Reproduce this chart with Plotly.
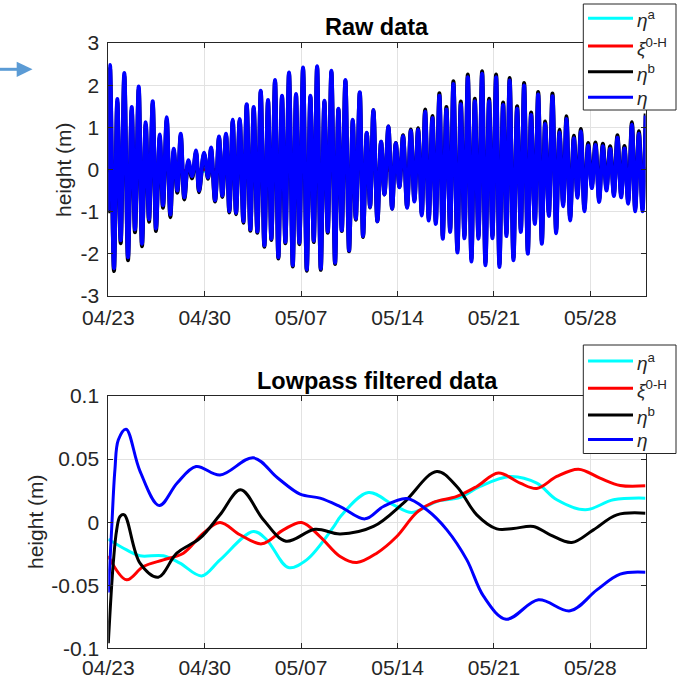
import plotly.graph_objects as go
import pandas as pd

# ---------------- data ----------------
START = "2019-04-23"
END = "2019-06-01"
tick_dates = ["2019-04-23", "2019-04-30", "2019-05-07", "2019-05-14", "2019-05-21", "2019-05-28"]
tick_labels = ["04/23", "04/30", "05/07", "05/14", "05/21", "05/28"]

# Raw data: times (hours after 04/23 00:00) of successive high/low waters
raw_hours = [
    0, 3.0, 9.9, 15.7, 21.6, 27.9, 34.3, 40.8, 46.5, 53.0,
    58.7, 65.2, 70.9, 77.4, 83.1, 89.6, 95.3, 101.8, 108.1, 114.0,
    120.3, 126.2, 132.5, 139.4, 145.9, 152.9, 158.1, 166.8, 173.8, 179.0,
    186.0, 192.9, 198.7, 205.1, 210.9, 216.8, 222.6, 229.0, 235.3, 241.2,
    247.5, 253.4, 259.7, 265.6, 271.9, 278.3, 284.1, 290.5, 296.3, 302.7,
    308.5, 314.9, 321.4, 327.1, 332.9, 339.3, 345.8, 352.1, 358.0, 363.8,
    370.2, 376.5, 382.4, 388.7, 395.1, 400.9, 406.8, 413.1, 419.5, 426.0,
    431.2, 438.2, 443.9, 450.4, 456.1, 461.9, 468.9, 475.3, 481.1, 488.0,
    494.5, 500.9, 507.2, 513.6, 520.6, 527.1, 533.3, 539.8, 546.2, 552.0,
    558.4, 564.7, 570.6, 576.9, 582.8, 589.1, 595.6, 601.3, 608.3, 614.2,
    620.5, 626.4, 632.7, 638.6, 644.9, 651.3, 657.1, 663.5, 669.3, 675.7,
    681.5, 687.9, 693.7, 699.3, 705.9, 712.3, 718.8, 724.5, 731.0, 736.7,
    743.2, 749.0, 755.4, 761.2, 767.6, 773.9, 780.3, 786.1, 792.5, 798.3,
    804.7, 811.2, 817.4, 823.4, 829.6, 836.1, 842.5, 848.8, 855.2, 861.7,
    868.0, 874.4, 880.9, 887.1, 893.6, 899.3, 905.8, 912.3, 918.0, 924.5,
    930.7, 936.3,
]
eta_raw = [
    -0.97, 2.48, -2.34, 1.67, -1.68, 2.29, -2.08, 1.48, -1.42, 1.97,
    -1.76, 1.12, -1.18, 1.62, -1.40, 0.83, -0.85, 1.24, -1.07, 0.49,
    -0.50, 0.85, -0.66, 0.22, -0.16, 0.45, -0.50, 0.40, -0.19, 0.52,
    -0.73, 0.78, -0.62, 0.85, -0.99, 1.18, -1.03, 1.20, -1.23, 1.55,
    -1.42, 1.48, -1.47, 1.87, -1.80, 1.65, -1.64, 2.12, -2.08, 1.75,
    -1.72, 2.30, -2.27, 1.79, -1.74, 2.42, -2.37, 1.75, -1.69, 2.45,
    -2.35, 1.63, -1.47, 2.34, -2.21, 1.44, -1.44, 2.12, -1.92, 1.18,
    -1.17, 1.83, -1.58, 0.87, -0.89, 1.41, -1.23, 0.66, -0.59, 1.02,
    -0.93, 0.62, -0.42, 0.79, -0.91, 0.92, -0.76, 0.94, -1.09, 1.37,
    -1.21, 1.22, -1.29, 1.75, -1.64, 1.42, -1.48, 2.03, -1.97, 1.55,
    -1.63, 2.19, -2.18, 1.62, -1.64, 2.27, -2.27, 1.62, -1.63, 2.19,
    -2.31, 1.53, -1.58, 2.11, -2.15, 1.44, -1.48, 1.99, -2.00, 1.29,
    -1.29, 1.78, -1.76, 1.08, -1.10, 1.74, -1.51, 0.88, -0.87, 1.20,
    -1.21, 0.74, -0.67, 0.90, -0.99, 0.57, -0.44, 0.58, -0.77, 0.55,
    -0.50, 0.49, -0.63, 0.75, -0.66, 0.50, -0.81, 1.06, -0.99, 0.85,
    -0.99, 1.28,
]
eta_b_raw = [
    -1.04, 2.41, -2.41, 1.60, -1.75, 2.22, -2.15, 1.41, -1.49, 1.90,
    -1.82, 1.06, -1.24, 1.56, -1.46, 0.77, -0.91, 1.18, -1.13, 0.44,
    -0.55, 0.80, -0.71, 0.17, -0.21, 0.41, -0.54, 0.37, -0.22, 0.49,
    -0.76, 0.75, -0.65, 0.82, -1.02, 1.15, -1.06, 1.17, -1.26, 1.52,
    -1.45, 1.45, -1.50, 1.84, -1.83, 1.62, -1.67, 2.09, -2.11, 1.72,
    -1.75, 2.27, -2.30, 1.76, -1.77, 2.39, -2.40, 1.72, -1.72, 2.42,
    -2.38, 1.60, -1.50, 2.31, -2.24, 1.42, -1.46, 2.10, -1.94, 1.16,
    -1.19, 1.81, -1.60, 0.86, -0.90, 1.41, -1.23, 0.66, -0.59, 1.02,
    -0.93, 0.63, -0.41, 0.81, -0.89, 0.95, -0.73, 0.98, -1.05, 1.42,
    -1.16, 1.27, -1.24, 1.81, -1.58, 1.48, -1.42, 2.09, -1.91, 1.61,
    -1.57, 2.25, -2.12, 1.68, -1.58, 2.33, -2.21, 1.68, -1.57, 2.25,
    -2.25, 1.59, -1.52, 2.17, -2.09, 1.50, -1.42, 2.05, -1.94, 1.35,
    -1.23, 1.84, -1.70, 1.14, -1.04, 1.80, -1.45, 0.94, -0.81, 1.26,
    -1.15, 0.80, -0.61, 0.96, -0.93, 0.63, -0.38, 0.64, -0.71, 0.61,
    -0.44, 0.55, -0.57, 0.81, -0.60, 0.56, -0.75, 1.12, -0.93, 0.91,
    -0.93, 1.33,
]

# Lowpass filtered data: (days after 04/23 00:00, metres)
eta_a_days = [0, 1.33, 2.3, 4.0, 5.2, 6.78, 8.11, 10.53, 11.5, 13.07, 14.4, 16.34, 16.9,
              18.88, 20.7, 22.03, 23.85, 25.54, 26.99, 29.17, 31.11, 32.56, 34.62, 36.67, 39.0]
eta_a_lp = [-0.0135, -0.022, -0.0267, -0.0267, -0.0325, -0.0426, -0.0299, -0.0074, -0.014, -0.036,
            -0.0299, -0.004, 0.005, 0.0235, 0.0137, 0.0077, 0.0164, 0.0196, 0.0283, 0.0362, 0.0309,
            0.0177, 0.0098, 0.0177, 0.019]

xi_days = [0, 1.33, 2.54, 4.0, 5.45, 6.9, 8.11, 9.56, 11.14, 12.71, 14.04, 15.37, 16.83, 18.04,
           19.49, 20.94, 22.4, 23.6, 25.3, 26.75, 28.32, 29.9, 31.11, 32.56, 34.13, 35.7, 37.16, 39.0]
xi_lp = [-0.0267, -0.0457, -0.0352, -0.0299, -0.0246, -0.0087, -0.0003, -0.010, -0.0172, -0.0061,
         -0.0003, -0.0114, -0.0272, -0.032, -0.0246, -0.0114, 0.0077, 0.0156, 0.0204, 0.0283, 0.0389,
         0.0309, 0.0267, 0.0362, 0.042, 0.0349, 0.0291, 0.0288]

eta_b_days = [0, 0.36, 0.61, 0.85, 1.16, 2.3, 3.63, 4.97, 6.66, 8.11, 9.61, 11.26, 12.9, 15.01,
              16.83, 19.25, 21.42, 23.85, 25.3, 26.75, 28.2, 29.41, 30.86, 32.08, 33.65, 35.22,
              36.92, 39.0]
eta_b_lp = [-0.096, -0.0325, -0.006, 0.0045, 0.0058, -0.0325, -0.0436, -0.0246, -0.0127, 0.0058,
            0.0256, 0.0019, -0.0151, -0.0056, -0.0093, -0.0034, 0.0151, 0.0402, 0.0283, 0.0058,
            -0.0053, -0.005, -0.0034, -0.010, -0.0161, -0.0061, 0.0058, 0.0071]

eta_days = [0, 0.24, 0.48, 0.73, 1.29, 2.3, 3.7, 5.0, 6.37, 8.11, 10.53, 12.3, 13.92, 15.37, 16.83,
            18.64, 19.97, 21.67, 23.12, 24.58, 26.03, 27.24, 28.88, 31.23, 33.53, 35.47, 37.16, 39.0]
eta_lp = [-0.0558, -0.006, 0.0415, 0.0653, 0.0737, 0.0405, 0.0132, 0.031, 0.0441, 0.0373, 0.051,
          0.035, 0.0222, 0.019, 0.0124, 0.0026, 0.0124, 0.0188, 0.0098, -0.0061, -0.0299, -0.0587,
          -0.0769, -0.0616, -0.0703, -0.0537, -0.0412, -0.0397]

raw_yticks = [-3, -2, -1, 0, 1, 2, 3]
raw_yticklabels = ["-3", "-2", "-1", "0", "1", "2", "3"]
lp_yticks = [-0.1, -0.05, 0, 0.05, 0.1]
lp_yticklabels = ["-0.1", "-0.05", "0", "0.05", "0.1"]

series_names = ["<i>η</i><sup>a</sup>", "<i>ξ</i><sup>0-H</sup>", "<i>η</i><sup>b</sup>", "<i>η</i>"]
series_colors = ["#00FFFF", "#FF0000", "#000000", "#0000FF"]

# ---------------- helpers ----------------
W, H = 679, 678


def px(x):
    return x / W


def py(y):
    return 1 - y / H


base = pd.Timestamp(START)


def hrs(h):
    return base + pd.to_timedelta(h, unit="h")


def days(d):
    return base + pd.to_timedelta(d, unit="D")


FONT = "Liberation Sans, Arial, Helvetica, sans-serif"
AX = "#262626"

fig = go.Figure()

# ---- top: raw data ----
fig.add_trace(go.Scatter(x=days(eta_a_days), y=eta_a_lp, mode="lines", xaxis="x", yaxis="y",
                         line=dict(color=series_colors[0], width=3, shape="spline"), showlegend=False))
fig.add_trace(go.Scatter(x=days(xi_days), y=xi_lp, mode="lines", xaxis="x", yaxis="y",
                         line=dict(color=series_colors[1], width=3, shape="spline"), showlegend=False))
fig.add_trace(go.Scatter(x=hrs(raw_hours), y=eta_b_raw, mode="lines", xaxis="x", yaxis="y",
                         line=dict(color=series_colors[2], width=4, shape="spline", smoothing=1.0),
                         showlegend=False))
fig.add_trace(go.Scatter(x=hrs(raw_hours), y=eta_raw, mode="lines", xaxis="x", yaxis="y",
                         line=dict(color=series_colors[3], width=4, shape="spline", smoothing=1.0),
                         showlegend=False))

# ---- bottom: lowpass ----
for d, v, c in [(eta_a_days, eta_a_lp, series_colors[0]), (xi_days, xi_lp, series_colors[1]),
                (eta_b_days, eta_b_lp, series_colors[2]), (eta_days, eta_lp, series_colors[3])]:
    fig.add_trace(go.Scatter(x=days(d), y=v, mode="lines", xaxis="x2", yaxis="y2",
                             line=dict(color=c, width=3, shape="spline", smoothing=1.0),
                             showlegend=False))

xdom = [px(108.3), px(645.5)]
common_x = dict(domain=xdom, type="date", range=[START, END], tickvals=tick_dates, ticktext=tick_labels,
                showgrid=True, gridcolor="#e2e2e2", gridwidth=1, zeroline=False, showline=True,
                linecolor=AX, linewidth=1, mirror="ticks", ticks="inside", ticklen=5, tickcolor=AX,
                tickfont=dict(family=FONT, size=21, color=AX), automargin=False)
common_y = dict(showgrid=True, gridcolor="#e2e2e2", gridwidth=1, zeroline=False, showline=True,
                linecolor=AX, linewidth=1, mirror="ticks", ticks="inside", ticklen=5, tickcolor=AX,
                tickfont=dict(family=FONT, size=21, color=AX), ticklabelstandoff=4, automargin=False)

fig.update_layout(
    width=W, height=H, margin=dict(l=0, r=0, t=0, b=0),
    paper_bgcolor="white", plot_bgcolor="white", showlegend=False,
    xaxis=dict(anchor="y", ticklabelstandoff=3, **common_x),
    yaxis=dict(anchor="x", domain=[py(296), py(43)], range=[-3, 3], tickvals=raw_yticks,
               ticktext=raw_yticklabels, **common_y),
    xaxis2=dict(anchor="y2", ticklabelstandoff=0, **common_x),
    yaxis2=dict(anchor="x2", domain=[py(648.3), py(396)], range=[-0.1, 0.1], tickvals=lp_yticks,
                ticktext=lp_yticklabels, **common_y),
)

ann = []
shapes = []
# titles
ann.append(dict(text="<b>Raw data</b>", x=px(377), y=py(27), xref="paper", yref="paper",
                showarrow=False, xanchor="center", yanchor="middle",
                font=dict(family=FONT, size=23.5, color="black")))
ann.append(dict(text="<b>Lowpass filtered data</b>", x=px(377), y=py(381), xref="paper", yref="paper",
                showarrow=False, xanchor="center", yanchor="middle",
                font=dict(family=FONT, size=23.5, color="black")))
# y-axis titles
ann.append(dict(text="height (m)", x=px(63), y=py(170), xref="paper", yref="paper", textangle=-90,
                showarrow=False, xanchor="center", yanchor="middle",
                font=dict(family=FONT, size=21, color=AX)))
ann.append(dict(text="height (m)", x=px(35), y=py(522), xref="paper", yref="paper", textangle=-90,
                showarrow=False, xanchor="center", yanchor="middle",
                font=dict(family=FONT, size=21, color=AX)))

# legends (one box per panel)
for (top, bot, rows) in [(4, 110, [18.3, 46, 71.7, 97.3]), (345, 453.5, [361, 388.3, 415, 439.5])]:
    shapes.append(dict(type="rect", xref="paper", yref="paper", x0=px(583.3), x1=px(676),
                       y0=py(bot), y1=py(top), line=dict(color=AX, width=1), fillcolor="white",
                       layer="above"))
    for name, col, ry in zip(series_names, series_colors, rows):
        shapes.append(dict(type="line", xref="paper", yref="paper", x0=px(588), x1=px(633),
                           y0=py(ry), y1=py(ry), line=dict(color=col, width=3), layer="above"))
        ann.append(dict(text=name, x=px(635), y=py(ry + 1), xref="paper", yref="paper",
                        showarrow=False, xanchor="left", yanchor="middle",
                        font=dict(family=FONT, size=19, color=AX)))

# arrow at top left
ARROW = "#5B9BD5"
shapes.append(dict(type="line", xref="paper", yref="paper", x0=px(0), x1=px(18), y0=py(69.3), y1=py(69.3),
                   line=dict(color=ARROW, width=3)))
shapes.append(dict(type="path", xref="paper", yref="paper",
                   path=f"M {px(16.7)},{py(61.7)} L {px(32.5)},{py(69.3)} L {px(16.7)},{py(76.9)} Z",
                   fillcolor=ARROW, line=dict(color=ARROW, width=0)))

fig.update_layout(annotations=ann, shapes=shapes)
fig.write_html("out.html", config={"displayModeBar": False},
               post_script="document.body.style.margin='0';document.body.style.overflow='hidden';")
